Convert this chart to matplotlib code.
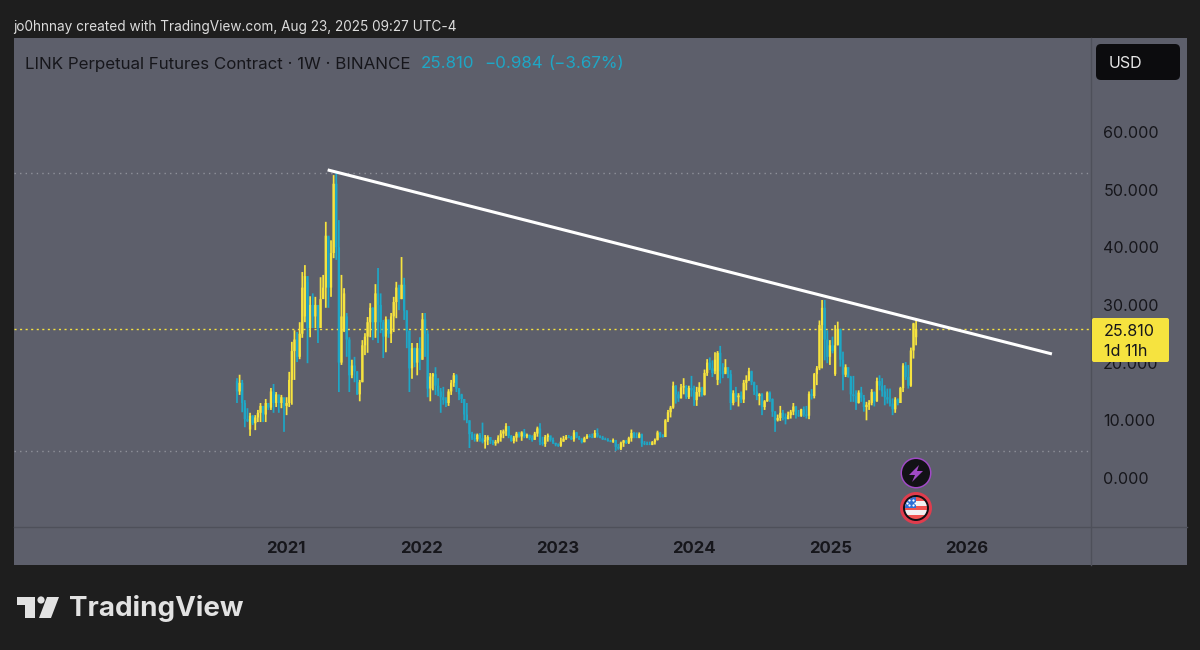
import matplotlib
matplotlib.use("Agg")
import matplotlib.dates as mdates
import matplotlib.pyplot as plt
import pandas as pd
from matplotlib.patches import Circle, FancyBboxPatch, Polygon, Rectangle

plt.rcParams['font.family'] = ['Inter', 'DejaVu Sans']

# LINK perpetual weekly candles
first_week = "2020-08-24"
closes = [
    15, 16.5, 13, 10.2, 9.9, 10.8, 9.5, 10.5, 11.3, 12.5,
    11, 13, 12.2, 15, 13, 14.5, 13, 14, 12.5, 13,
    17, 22, 24, 21, 25, 33, 35, 26, 30, 28,
    30, 26, 31, 33, 42, 33, 39, 51, 40, 20,
    28, 32, 24, 17.8, 19.5, 18.5, 14.5, 16.6, 23, 24.5,
    27, 29.5, 27, 32, 30, 27, 24.5, 27.5, 25, 28,
    30.5, 33, 31, 33.5, 29, 25.5, 19, 22.5, 20, 22.5,
    20.5, 27.5, 25, 15.5, 17.6, 18, 16, 15, 14, 13.5,
    13, 15, 16.5, 17.8, 15.5, 14.5, 13.7, 11, 10, 7.6,
    6.9, 6.7, 7.5, 6.9, 6.3, 6.6, 7.1, 6.4, 6.0, 6.3,
    7.0, 7.7, 8.1, 9.0, 7.3, 6.4, 7.0, 7.7, 7.2, 7.9,
    7.2, 7.5, 6.9, 6.6, 7.7, 8.6, 6.2, 5.9, 7.1, 7.4,
    6.6, 6.1, 5.8, 5.6, 6.3, 6.8, 7.1, 7.0, 6.7, 7.9,
    7.0, 6.7, 6.2, 6.9, 7.3, 7.1, 7.0, 7.8, 7.2, 7.0,
    6.7, 6.6, 6.4, 6.3, 6.6, 5.4, 5.1, 6.1, 6.5, 6.1,
    6.9, 7.8, 7.1, 7.0, 7.6, 6.0, 5.9, 5.8, 5.75, 6.2,
    6.6, 7.9, 7.4, 7.1, 10, 11.4, 12.2, 16, 14.5, 13.8,
    15.7, 15.9, 14, 15.6, 15.2, 13.5, 14.9, 15.7, 14.4, 18.2,
    20, 19, 18.2, 20.5, 21.7, 18.5, 18, 19.2, 18, 13,
    14.7, 14, 14.3, 13.6, 16.5, 17, 18.5, 16.6, 15, 14.2,
    14.5, 12.3, 13.3, 14.8, 13.7, 11.5, 10, 10.4, 11.3, 10.6,
    10.2, 10.9, 11.5, 12.4, 10.9, 10.8, 11.9, 11, 10.8, 14.6,
    14.2, 18, 19, 26.5, 29.5, 24, 21, 23, 22, 23,
    25.8, 20.5, 17.9, 19.2, 17.5, 14.5, 14.2, 13, 14.8, 13.9,
    12.3, 12.7, 13, 14.9, 13.3, 16.8, 16, 15, 14, 13.6,
    12.9, 11.9, 13.6, 13, 15.6, 19.5, 17.5, 16, 22.1, 26.794,
    25.81,
]
highs = [
    17.3, 17.9, 17, 13.5, 12.1, 11.3, 10.9, 10.9, 11.8, 13,
    12.1, 13.7, 12.7, 15.6, 16.3, 14.9, 13.5, 14.4, 13.2, 14,
    18.4, 23.6, 25.6, 25.3, 27, 35.7, 36.9, 34, 31.5, 32,
    31.4, 29, 34.8, 35.2, 44.4, 41.8, 41.2, 52.5, 52.9, 44.7,
    35.2, 32.9, 28.6, 24.4, 20.5, 21, 18.5, 17, 23.9, 25.1,
    27.9, 30.3, 29.6, 33.6, 36.4, 32, 27.4, 28, 27, 28.6,
    31.4, 34, 33.5, 38.3, 34.7, 29.1, 25.6, 23.4, 22.6, 23.4,
    24.4, 28.6, 28.6, 25.6, 18.2, 18.2, 19.2, 17.3, 15.6, 15.8,
    14, 15.4, 17, 18.2, 18, 15.6, 14.6, 13.7, 13, 10,
    8, 7.7, 7.7, 7.8, 9.6, 7.45, 7.4, 7.1, 6.6, 6.6,
    7.4, 8.3, 8.4, 9.5, 9, 7.45, 7.3, 8, 8, 8.1,
    8.5, 7.7, 7.5, 7.4, 8, 8.9, 9.5, 7.15, 7.45, 7.7,
    7.3, 7, 6.1, 6, 7, 7.3, 7.45, 7.45, 7.3, 8.3,
    8, 7.3, 6.9, 7.15, 7.6, 7.6, 7.7, 8.3, 8.6, 7.4,
    7.3, 7, 6.9, 6.6, 6.85, 6.6, 5.9, 6.3, 6.6, 6.6,
    7.15, 8.4, 8, 7.9, 7.9, 7.7, 6.4, 6.3, 6.3, 6.4,
    6.85, 8.2, 8, 7.6, 10.2, 11.8, 12.5, 16.7, 16.1, 15,
    16.3, 17.3, 16.1, 16, 17.7, 16, 15.8, 16.6, 15.8, 18.8,
    20.6, 20.9, 20.4, 21.8, 22, 22.9, 19.9, 20.6, 19.2, 18.7,
    15.2, 15.8, 14.7, 15, 17, 17.8, 19.1, 18.6, 16.7, 16.1,
    14.7, 14.7, 13.5, 15, 15, 13.8, 11.6, 11, 12.5, 11.8,
    11.2, 11.5, 11.8, 13, 12.5, 11.8, 12, 12.4, 12.5, 15,
    15.4, 18.2, 19.4, 27.3, 30.85, 30.85, 25.6, 23.9, 24.5, 26.5,
    27.1, 25.9, 21.9, 19.7, 19.2, 17.7, 17.7, 15.2, 15.2, 15.8,
    14.4, 13.2, 13.5, 15.4, 15, 17.4, 17.8, 17.3, 16.1, 15.5,
    15.5, 13.8, 14, 13.8, 15.8, 19.9, 20.1, 19.6, 22.6, 26.9,
    27.7,
]
lows = [
    13, 14.4, 11.4, 8.8, 9.7, 7.3, 9.2, 8.3, 9.7, 9.7,
    9.7, 9.7, 11.8, 11.8, 11.3, 12.3, 11.3, 12.1, 8, 10.9,
    12.3, 12.7, 17, 20.1, 20.6, 24.3, 27, 19.9, 24.4, 26,
    26, 23.4, 26, 31.4, 29.5, 29.5, 31.4, 38.1, 37.8, 14.9,
    19.6, 25.3, 21, 14.9, 17.3, 16.6, 14.4, 13.3, 16.6, 21.3,
    21.7, 24.4, 23.9, 24.3, 23.4, 25.1, 20.8, 21.8, 24.3, 23.4,
    25.3, 27.7, 29.1, 31, 27.4, 22.5, 14.9, 17.2, 19.2, 17.8,
    18.7, 20.5, 21, 14, 13.3, 15.2, 14.4, 14.2, 11.3, 12.7,
    12.3, 12.5, 14.4, 15.8, 14.9, 13.5, 13, 10, 9.5, 5.2,
    6.6, 6.3, 6.3, 6.3, 6, 5.1, 5.7, 5.9, 5.7, 5.6,
    6, 6.3, 6.9, 7.3, 6.9, 6.3, 6, 6.3, 7, 6.45,
    6.9, 6.9, 6.6, 6.3, 6.7, 7.15, 5.7, 5.6, 5.4, 6.3,
    6.3, 5.9, 5.5, 5.4, 5.4, 6.3, 6.6, 6.9, 6.6, 6.3,
    6.9, 6.6, 6, 6.2, 6.75, 7, 6.9, 7, 7, 6.9,
    6.6, 6.55, 6.3, 6.2, 6.1, 4.7, 4.9, 4.85, 5.4, 5.9,
    5.9, 6.3, 6.9, 6.9, 6.9, 5.4, 5.7, 5.7, 5.7, 5.7,
    5.8, 6.5, 7, 7, 7.1, 9.7, 10.5, 12, 12.9, 13.2,
    13.8, 14.5, 13.7, 13.7, 14.1, 12.5, 12.5, 14.1, 14.1, 14.3,
    17.7, 18.7, 17.5, 18, 16.1, 16.4, 17.3, 18.3, 17.3, 11.8,
    12.6, 13.2, 12.4, 13, 13, 15.2, 16.8, 16.1, 14.4, 13.5,
    12.6, 10.9, 11.8, 13.2, 13.2, 10.6, 8, 9.8, 9.9, 10,
    9.3, 10.2, 10.3, 10.9, 10.3, 10.6, 10.6, 10.6, 10.3, 10.2,
    13.6, 13.8, 16.1, 18.7, 19, 20.4, 19.9, 19.6, 21.6, 17.7,
    23, 19.3, 15.2, 17.5, 17.4, 13.2, 13.2, 11.8, 12.9, 13.2,
    11.5, 10, 11.8, 12.6, 12.4, 13.2, 15.2, 14.1, 12.6, 12.9,
    12.4, 10.9, 11.3, 12.6, 13, 14.9, 17, 15.5, 15.8, 20.7,
    23,
]
first_open = 16.8
# weeks that did not open at the previous close
open_gaps = {5: 8.4, 26: 28, 40: 20, 41: 25.5, 42: 28, 183: 18.5, 184: 17, 229: 18, 260: 24.4}

prev_close = -0.984
prev_close_pct = -3.67
y_ticks = [0, 10, 20, 30, 40, 50, 60]
year_ticks = ["2021", "2022", "2023", "2024", "2025", "2026"]
trend_dates = ["2021-04-24", "2026-08-17"]
trend_prices = [53.4, 21.5]

UP = "#f6e33f"
DOWN = "#1ea7c6"
PANEL = "#5d5f6b"
EDGE = "#4e505a"
DARK = "#16161b"

opens = [first_open] + closes[:-1]
for week, value in open_gaps.items():
    opens[week] = value
weeks = mdates.date2num(pd.date_range(first_week, periods=len(closes), freq="7D"))
colors = [UP if c >= o else DOWN for o, c in zip(opens, closes)]
bottoms = [min(o, c) for o, c in zip(opens, closes)]
heights = [abs(c - o) for o, c in zip(opens, closes)]

fig = plt.figure(figsize=(12, 6.5), dpi=100, facecolor="#1e1e1e")

# frame of the chart, in pixels
back = fig.add_axes([0, 0, 1, 1], zorder=0)
back.set_xlim(0, 1200)
back.set_ylim(650, 0)
back.axis("off")
back.add_patch(Rectangle((14, 38), 1173, 527, fc=PANEL, ec="none"))
back.plot([14, 1187], [527, 527], color=EDGE, lw=1)
back.plot([1090.5, 1090.5], [38, 565], color=EDGE, lw=1)
back.text(13, 27, "jo0hnnay created with TradingView.com, Aug 23, 2025 09:27 UTC-4",
          color="#dcdcdc", fontsize=9.8, va="center")
back.text(25, 64, "LINK Perpetual Futures Contract · 1W · BINANCE", color=DARK, fontsize=12.2, va="center")
back.text(421, 64, f"{closes[-1]:.3f}", color=DOWN, fontsize=12.2, va="center")
back.text(484, 64, f"−{abs(prev_close):.3f}", color=DOWN, fontsize=12.2, va="center")
back.text(548, 64, f"(−{abs(prev_close_pct):.2f}%)", color=DOWN, fontsize=12.2, va="center")

# logo
back.add_patch(Polygon([(17, 597), (35, 597), (35, 618), (25, 618), (25, 605), (17, 605)], fc="#e2e2e2", ec="none"))
back.add_patch(Circle((41, 600), 3.6, fc="#e2e2e2", ec="none"))
back.add_patch(Polygon([(47, 597), (59, 597), (51, 618), (39, 618)], fc="#e2e2e2", ec="none"))
back.text(69, 608, "TradingView", color="#e2e2e2", fontsize=20, fontweight="bold", va="center")

# price pane
ax = fig.add_axes([14 / 1200, 1 - 527 / 650, (1090 - 14) / 1200, (527 - 38) / 650], zorder=1)
ax.patch.set_alpha(0)
for side in ax.spines.values():
    side.set_visible(False)
ax.set_xlim(weeks[0] - 597.6, weeks[0] + 2286)
ax.set_ylim(-8.49, 76.26)

ax.axhline(max(highs), color="#8f919a", lw=1, ls=(0, (1, 3)))
ax.axhline(min(lows), color="#8f919a", lw=1, ls=(0, (1, 3)))
ax.axhline(closes[-1], color=UP, lw=1, ls=(0, (1.5, 2.5)))

wicks = ax.vlines(weeks, lows, highs, colors=colors, lw=1.25)
wicks.set_snap(False)
bodies = ax.bar(weeks, heights, bottom=bottoms, width=6.2, color=colors, linewidth=0)
for body in bodies:
    body.set_snap(False)
ax.plot(mdates.date2num(pd.to_datetime(trend_dates)), trend_prices, color="white", lw=2.2,
        solid_capstyle="butt")

ax.yaxis.tick_right()
ax.set_yticks(y_ticks)
ax.set_yticklabels([f"{v:.3f}" for v in y_ticks], color=DARK, fontsize=11.6)
ax.tick_params(axis="y", length=0, pad=9.5)
ax.set_xticks(mdates.date2num(pd.to_datetime(year_ticks)))
ax.set_xticklabels(year_ticks, fontweight="bold", fontsize=12, color=DARK)
ax.tick_params(axis="x", length=0, pad=10)

# overlays drawn above the price scale
top = fig.add_axes([0, 0, 1, 1], zorder=2)
top.set_xlim(0, 1200)
top.set_ylim(650, 0)
top.axis("off")
top.patch.set_alpha(0)

top.add_patch(FancyBboxPatch((1096, 44), 84, 36, boxstyle="round,pad=0,rounding_size=5", fc="#0c0c0e", ec="none"))
top.text(1109, 63, "USD", color="#e8e8e8", fontsize=11.5, va="center")

top.add_patch(FancyBboxPatch((1092, 318), 77, 44, boxstyle="round,pad=0,rounding_size=2", fc=UP, ec="none"))
top.text(1104, 331, f"{closes[-1]:.3f}", color=DARK, fontsize=11.6, va="center")
top.text(1104, 351, "1d 11h", color=DARK, fontsize=11.6, va="center")

# event badges under the last candles
top.add_patch(Circle((916, 473), 15.5, fc="#a04ac6", ec="none"))
top.add_patch(Circle((916, 473), 14, fc="#121216", ec="none"))
top.add_patch(Polygon([(919, 465), (909, 475), (915, 475), (912, 482), (923, 471), (917, 471)], fc="#a04ac6", ec="none"))

top.add_patch(Circle((916, 508), 16, fc="#e03c4d", ec="none"))
top.add_patch(Circle((916, 508), 13, fc="#101014", ec="none"))
flag = Circle((916, 508), 11, transform=top.transData)
for i, shade in enumerate(["#ef5350", "#f2f2f2", "#ef5350", "#f2f2f2", "#ef5350"]):
    band = Rectangle((904, 497 + i * 4.4), 24, 4.4, fc=shade, ec="none")
    top.add_patch(band)
    band.set_clip_path(flag)
canton = Rectangle((904, 497), 12, 11, fc="#2f6fd6", ec="none")
top.add_patch(canton)
canton.set_clip_path(flag)
star_x = [909, 912.5, 909, 912.5, 907, 914.5]
star_y = [500, 500, 505, 505, 502.5, 502.5]
top.scatter(star_x, star_y, s=2.5, color="white", linewidths=0)

fig.savefig("out.png", dpi=100, facecolor=fig.get_facecolor())
